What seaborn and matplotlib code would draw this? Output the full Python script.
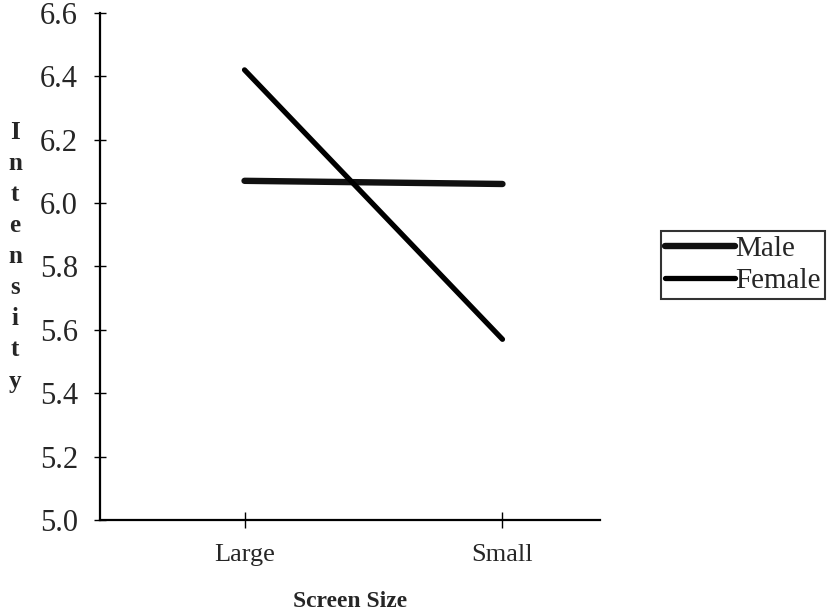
import matplotlib
matplotlib.use("Agg")
import matplotlib.pyplot as plt
import pandas as pd
import seaborn as sns

# values
screen_size = ["Large", "Small"]
male = [6.07, 6.06]
female = [6.42, 5.57]
y_ticks = [5.0, 5.2, 5.4, 5.6, 5.8, 6.0, 6.2, 6.4, 6.6]

df = pd.DataFrame({
    "Screen Size": screen_size * 2,
    "Intensity": male + female,
    "Gender": ["Male"] * 2 + ["Female"] * 2,
})

sns.set_style("white")
plt.rcParams["font.family"] = ["Liberation Serif", "DejaVu Serif"]

fig = plt.figure(figsize=(8.34, 6.11), dpi=100)
ax = fig.add_axes([0.12, 0.149, 0.6, 0.83])

sns.lineplot(data=df, x="Screen Size", y="Intensity", hue="Gender",
             size="Gender", sizes={"Male": 4.6, "Female": 3.8},
             palette={"Male": "#111111", "Female": "black"},
             sort=False, legend=False, ax=ax)

ax.set_xlim(-0.56, 1.38)
ax.set_ylim(5.0, 6.6)
ax.set_yticks(y_ticks)
ax.set_yticklabels(["%.1f" % t for t in y_ticks], fontsize=22)
ax.set_xticks([0, 1])
ax.set_xticklabels(screen_size, fontsize=19)
ax.tick_params(axis="both", direction="inout", width=1, color="black",
               left=True, bottom=True)
ax.tick_params(axis="y", length=8, pad=12)
ax.tick_params(axis="x", length=12, pad=11)

for side in ["top", "right"]:
    ax.spines[side].set_visible(False)
for side in ["left", "bottom"]:
    ax.spines[side].set_color("black")
    ax.spines[side].set_linewidth(1.6)

ax.set_xlabel("Screen Size", fontsize=17, fontweight="bold", labelpad=18)
ax.set_ylabel("")
fig.text(0.018, 0.58, "\n".join("Intensity"), fontsize=18, fontweight="bold",
         ha="center", va="center", linespacing=1.45)

handles = ax.get_lines()[:2]
leg = ax.legend(handles, ["Male", "Female"], loc="upper left",
                bbox_to_anchor=(1.12, 0.569), fontsize=21, frameon=True,
                fancybox=False, edgecolor="black", handlelength=2.4,
                handletextpad=0.0, borderpad=0.15, labelspacing=0.2,
                borderaxespad=0)
leg.get_frame().set_linewidth(1.5)

fig.savefig("out.png", dpi=100)
